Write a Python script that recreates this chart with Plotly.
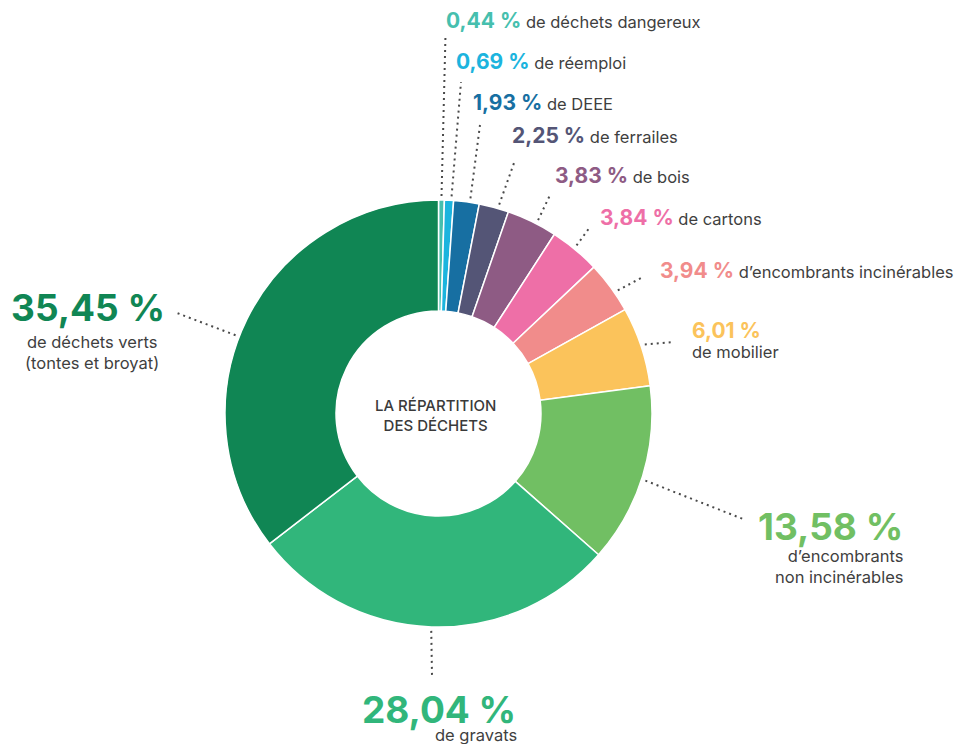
import math
import plotly.graph_objects as go

# Waste categories, clockwise from 12 o'clock
categories = [
    "de déchets dangereux",
    "de réemploi",
    "de DEEE",
    "de ferrailes",
    "de bois",
    "de cartons",
    "d’encombrants incinérables",
    "de mobilier",
    "d’encombrants<br>non incinérables",
    "de gravats",
    "de déchets verts<br>(tontes et broyat)",
]
shares = [0.44, 0.69, 1.93, 2.25, 3.83, 3.84, 3.94, 6.01, 13.58, 28.04, 35.45]
colors = [
    "#46bfae", "#1cb4de", "#176fa2", "#545576", "#8e5b84", "#ee6fa7",
    "#f18c8b", "#fbc35b", "#71bf63", "#31b67b", "#108654",
]

W, H = 974, 744
FONT = "Inter"
GREY = "#3f3f3f"
DESC = 16.5   # description text size
BIG = 37      # large value size

# donut geometry in page pixels
CX, CY, R = 438.5, 413.5, 213.5

# where each leader leaves its slice (fraction along the slice) and where it ends
leader_frac = [0.5, 0.75, 0.63, 0.64, 0.59, 0.47, 0.62, 0.49, 0.52, 0.5, 0.46]
leader_end = [(445.5, 35), (461, 82), (480, 125), (514, 163), (550, 195),
              (590, 227), (643, 277), (673, 342), (743, 519), (432, 675), (177, 313)]


def pct(v):
    return f"{v:.2f}".replace(".", ",") + " %"


fig = go.Figure()

fig.add_trace(go.Pie(
    values=shares,
    labels=[c.replace("<br>", " ") for c in categories],
    marker=dict(colors=colors, line=dict(color="white", width=1.5)),
    hole=0.48,
    sort=False,
    direction="clockwise",
    rotation=0,
    textinfo="none",
    hoverinfo="label+percent",
    showlegend=False,
    domain=dict(x=[(CX - R) / W, (CX + R) / W],
                y=[(H - CY - R) / H, (H - CY + R) / H]),
))

# dotted leader lines from each slice to its label
cum = 0.0
for v, f, (ex, ey) in zip(shares, leader_frac, leader_end):
    theta = math.radians(360.0 * (cum + f * v) / 100.0)
    r0 = R + 4
    sx, sy = CX + r0 * math.sin(theta), CY - r0 * math.cos(theta)
    fig.add_trace(go.Scatter(
        x=[sx, ex], y=[sy, ey], mode="lines",
        line=dict(color="#4a4a4a", width=2, dash="2px,4px"),
        hoverinfo="skip", showlegend=False,
    ))
    cum += v

annotations = []


def note(x, y, text, size, color, xanchor="left", align="left", weight=None):
    font = dict(family=FONT, size=size, color=color)
    if weight:
        font["weight"] = weight
    annotations.append(dict(x=x, y=y, xref="x", yref="y", xanchor=xanchor, yanchor="middle",
                            showarrow=False, text=text, align=align, font=font,
                            borderpad=0))


# small inline labels: "<value> <description>" on one line
inline_pos = {0: (445, 20), 1: (455, 61), 2: (472, 102), 3: (511, 135),
              4: (554, 175), 5: (599, 217), 6: (659, 270)}
for i, (x, y) in inline_pos.items():
    note(x, y,
         f"<b><span style='color:{colors[i]};font-size:21px'>{pct(shares[i])}</span></b>"
         f" <span style='color:{GREY}'>{categories[i]}</span>",
         DESC, GREY)

# mobilier: value over description
note(691, 330, f"<b>{pct(shares[7])}</b>", 21, colors[7])
note(691, 352, categories[7], DESC, GREY)

# large labels
note(904, 526, f"<b>{pct(shares[8])}</b>", BIG, colors[8], xanchor="right")
note(904, 566, categories[8], DESC, GREY, xanchor="right", align="right")

note(517, 709, f"<b>{pct(shares[9])}</b>", BIG, colors[9], xanchor="right")
note(518, 735, categories[9], DESC, GREY, xanchor="right")

note(88, 307, f"<b>{pct(shares[10])}</b>", BIG, colors[10], xanchor="center")
note(92, 352, categories[10], DESC, GREY, xanchor="center", align="center")

# centre title
note(CX - 3, 415, "LA RÉPARTITION<br>DES DÉCHETS", 15, "#3a3a3a",
     xanchor="center", align="center", weight=500)

fig.update_layout(
    width=W, height=H,
    margin=dict(l=0, r=0, t=0, b=0),
    paper_bgcolor="white", plot_bgcolor="rgba(0,0,0,0)",
    xaxis=dict(range=[0, W], visible=False, fixedrange=True, domain=[0, 1]),
    yaxis=dict(range=[H, 0], visible=False, fixedrange=True, domain=[0, 1]),
    annotations=annotations,
)

fig.write_html("out.html")
